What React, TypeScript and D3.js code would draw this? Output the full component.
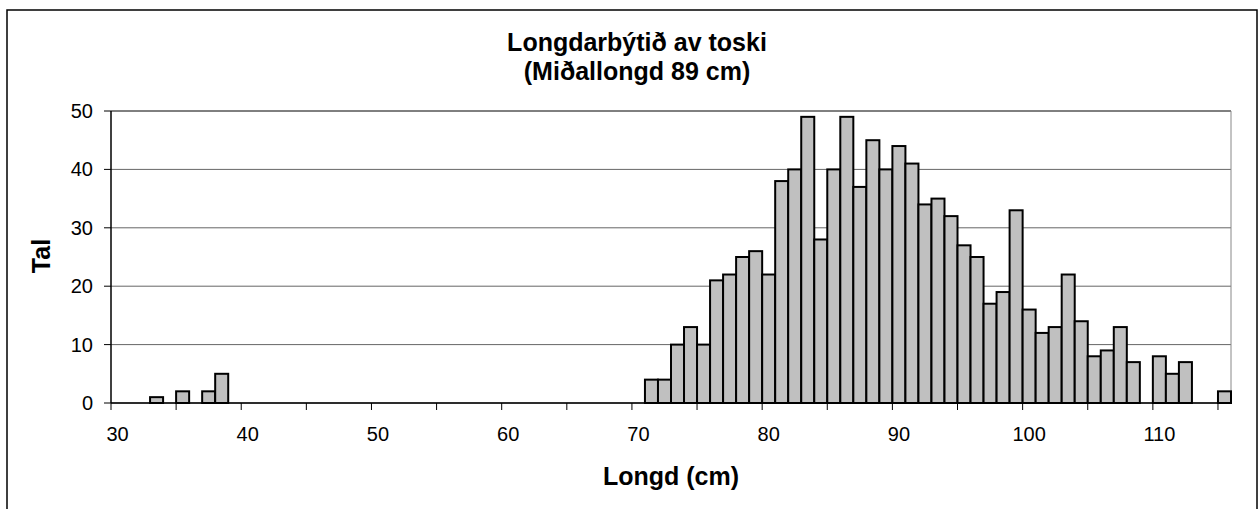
import React from 'react';
import * as d3 from 'd3';

// length classes (cm) on the category axis
const categories = d3.range(30, 116);
const tickLabels = [30, 40, 50, 60, 70, 80, 90, 100, 110];
const yTicks = [0, 10, 20, 30, 40, 50];

// observed counts per length
const lengths = [
  33, 35, 37, 38,
  71, 72, 73, 74, 75, 76, 77, 78, 79, 80,
  81, 82, 83, 84, 85, 86, 87, 88, 89, 90,
  91, 92, 93, 94, 95, 96, 97, 98, 99, 100,
  101, 102, 103, 104, 105, 106, 107, 108,
  110, 111, 112, 115,
];
const counts = [
  1, 2, 2, 5,
  4, 4, 10, 13, 10, 21, 22, 25, 26, 22,
  38, 40, 49, 28, 40, 49, 37, 45, 40, 44,
  41, 34, 35, 32, 27, 25, 17, 19, 33, 16,
  12, 13, 22, 14, 8, 9, 13, 7,
  8, 5, 7, 2,
];

const W = 1258;
const H = 509;
const plot = { left: 111, right: 1231, top: 111, bottom: 403 };
const font = '"Liberation Sans", Arial, sans-serif';

const App: React.FC = () => {
  const x = d3.scaleBand<number>()
    .domain(categories)
    .range([plot.left, plot.right])
    .padding(0);

  const y = d3.scaleLinear()
    .domain([0, 50])
    .range([plot.bottom, plot.top]);

  const bars = lengths.map((l, i) => ({ l, v: counts[i] }));
  const xTicks = categories.filter(c => (c - 30) % 5 === 0);

  return (
    <div style={{ position: 'absolute', left: 0, top: 0 }}>
      <svg width={W} height={H} style={{ display: 'block', background: '#fff' }}>
        {/* chart border */}
        <rect x={7} y={10} width={1250} height={520} fill="#fff" stroke="#000" strokeWidth={1.5} />

        {/* gridlines */}
        {yTicks.map(t => (
          <line key={'g' + t} x1={plot.left} x2={plot.right} y1={y(t)} y2={y(t)}
            stroke={t === 50 ? '#000' : '#666'} strokeWidth={1} />
        ))}
        {/* plot area right border */}
        <line x1={plot.right} x2={plot.right} y1={plot.top} y2={plot.bottom} stroke="#888" strokeWidth={1} />

        {/* bars */}
        {bars.map(d => (
          <rect key={d.l} x={x(d.l)} y={y(d.v)} width={x.bandwidth()} height={y(0) - y(d.v)}
            fill="#c0c0c0" stroke="#000" strokeWidth={2} />
        ))}

        {/* y axis */}
        <line x1={plot.left} x2={plot.left} y1={plot.top} y2={plot.bottom} stroke="#000" strokeWidth={1.5} />
        {yTicks.map(t => (
          <g key={'y' + t}>
            <line x1={plot.left - 7} x2={plot.left} y1={y(t)} y2={y(t)} stroke="#000" strokeWidth={1} />
            <text x={93} y={y(t)} dy="0.35em" textAnchor="end" fontFamily={font} fontSize={20} fill="#000">{t}</text>
          </g>
        ))}

        {/* x axis */}
        <line x1={plot.left} x2={plot.right} y1={plot.bottom} y2={plot.bottom} stroke="#000" strokeWidth={1.5} />
        {xTicks.map(c => (
          <line key={'xt' + c} x1={x(c)} x2={x(c)} y1={plot.bottom} y2={plot.bottom + 7} stroke="#000" strokeWidth={1} />
        ))}
        {tickLabels.map(c => (
          <text key={'xl' + c} x={(x(c) || 0) + x.bandwidth() / 2} y={441} textAnchor="middle"
            fontFamily={font} fontSize={20} fill="#000">{c}</text>
        ))}

        {/* titles */}
        <text x={637} y={51} textAnchor="middle" fontFamily={font} fontSize={25} fontWeight="bold">Longdarbýtið av toski</text>
        <text x={637} y={80} textAnchor="middle" fontFamily={font} fontSize={25} fontWeight="bold">(Miðallongd 89 cm)</text>
        <text x={671} y={485} textAnchor="middle" fontFamily={font} fontSize={25} fontWeight="bold">Longd (cm)</text>
        <text transform="translate(50,256) rotate(-90)" textAnchor="middle" fontFamily={font} fontSize={25} fontWeight="bold">Tal</text>
      </svg>
    </div>
  );
};

export default App;
